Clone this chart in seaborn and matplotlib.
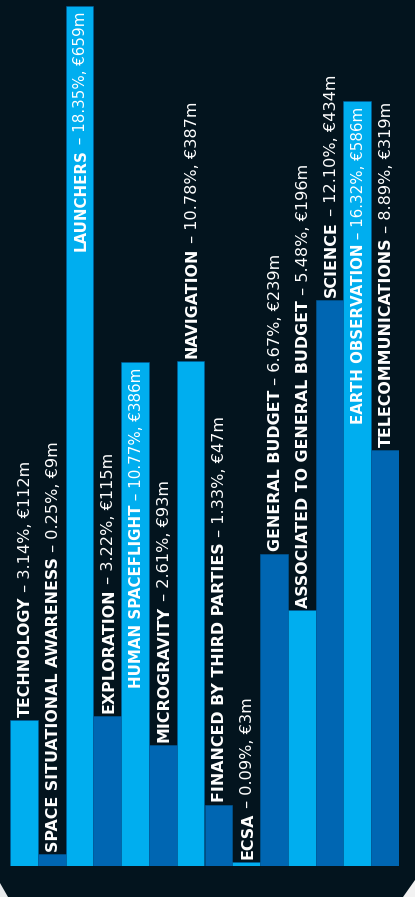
import matplotlib
matplotlib.use("Agg")
import matplotlib.pyplot as plt
import seaborn as sns
import pandas as pd
from matplotlib.patches import Polygon

# ESA budget by domain
categories = [
    "TECHNOLOGY", "SPACE SITUATIONAL AWARENESS", "LAUNCHERS", "EXPLORATION",
    "HUMAN SPACEFLIGHT", "MICROGRAVITY", "NAVIGATION", "FINANCED BY THIRD PARTIES",
    "ECSA", "GENERAL BUDGET", "ASSOCIATED TO GENERAL BUDGET", "SCIENCE",
    "EARTH OBSERVATION", "TELECOMMUNICATIONS",
]
shares = ["3.14%", "0.25%", "18.35%", "3.22%", "10.77%", "2.61%", "10.78%",
          "1.33%", "0.09%", "6.67%", "5.48%", "12.10%", "16.32%", "8.89%"]
amounts = [112, 9, 659, 115, 386, 93, 387, 47, 3, 239, 196, 434, 586, 319]
# labels drawn inside the bar instead of above it
inside = ["LAUNCHERS", "HUMAN SPACEFLIGHT", "EARTH OBSERVATION"]

BG = "#03141e"
LIGHT = "#00aeef"
DARK = "#0066b2"

df = pd.DataFrame({"category": categories, "amount": amounts})
palette = {c: (LIGHT if i % 2 == 0 else DARK) for i, c in enumerate(categories)}

fig = plt.figure(figsize=(4.15, 8.97), dpi=100, facecolor=BG)
ax = fig.add_axes([10 / 415, 31 / 897, 389 / 415, 866 / 897])
ax.set_facecolor(BG)

sns.barplot(data=df, x="category", y="amount", hue="category", palette=palette,
            legend=False, width=1.0, edgecolor="#005a9c", linewidth=0.4,
            saturation=1, ax=ax)
ax.set_xlim(-0.5, len(categories) - 0.5)
ax.set_ylim(0, 663.6)
ax.axis("off")

fig.canvas.draw()
renderer = fig.canvas.get_renderer()
units_per_px = 663.6 / 866


def text_len(t):
    # length along the rotated text, in data units
    return t.get_window_extent(renderer).height * units_per_px


for i, (cat, sh, amt) in enumerate(zip(categories, shares, amounts)):
    tail = f" \u2013 {sh}, \u20ac{amt}m"
    kw = dict(rotation=90, rotation_mode="anchor", va="center_baseline",
              color="white", family="DejaVu Sans", zorder=5)
    if cat in inside:
        top = amt - 4
        t2 = ax.text(i, top, tail, ha="right", fontweight="normal", fontsize=10.9, **kw)
        ax.text(i, top - text_len(t2), cat, ha="right", fontweight="bold",
                fontsize=10.8, **kw)
    else:
        base = amt + 2
        t1 = ax.text(i, base, cat, ha="left", fontweight="bold", fontsize=11.4, **kw)
        ax.text(i, base + text_len(t1), tail, ha="left", fontweight="normal",
                fontsize=11.6, **kw)

# cut page corners
fig.patches.append(Polygon([(0, 0), (0, 14 / 897), (8 / 415, 0)], closed=True,
                           transform=fig.transFigure, facecolor="#e8eaec",
                           edgecolor="none"))
fig.patches.append(Polygon([(403 / 415, 0), (1, 0), (1, 17 / 897)], closed=True,
                           transform=fig.transFigure, facecolor="#f2f2f2",
                           edgecolor="none"))

fig.savefig("out.png", dpi=100, facecolor=BG)
plt.close(fig)
